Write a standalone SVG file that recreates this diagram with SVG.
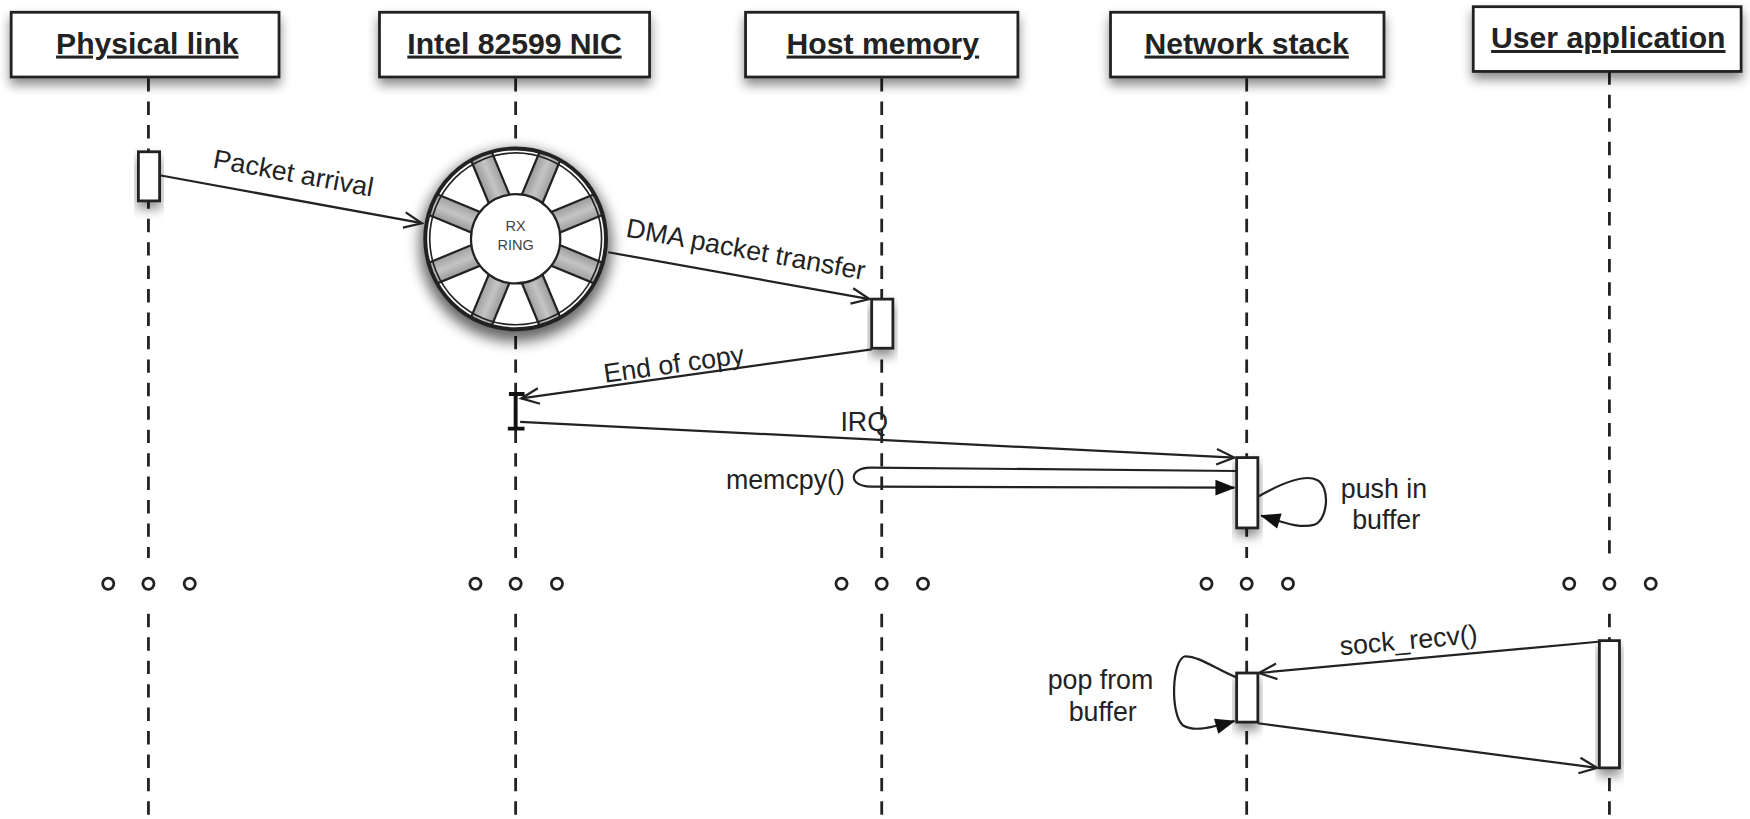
<svg xmlns="http://www.w3.org/2000/svg" width="1750" height="819" viewBox="0 0 1750 819">
<style>
.box{fill:#fff;stroke:#222;stroke-width:2.5}
.title{font-family:"Liberation Sans",Arial,sans-serif;font-weight:bold;font-size:27px;fill:#222;text-anchor:middle;text-decoration:underline}
.life{stroke:#222;stroke-width:2.5;stroke-dasharray:12 9;fill:none}
.bar{fill:#fff;stroke:#222;stroke-width:2.5}
.msg{stroke:#222;stroke-width:2;fill:none}
.lbl{font-family:"Liberation Sans",Arial,sans-serif;font-size:24px;fill:#222}
.dot{fill:#fff;stroke:#222;stroke-width:2.5}
.ring{font-family:"Liberation Sans",Arial,sans-serif;font-size:13px;fill:#444;text-anchor:middle}
</style>
<defs>
<filter id="sh" x="-20%" y="-30%" width="140%" height="180%">
<feDropShadow dx="0" dy="6" stdDeviation="5" flood-color="#000" flood-opacity="0.45"/>
</filter>
<filter id="blur" x="-30%" y="-30%" width="160%" height="160%">
<feGaussianBlur stdDeviation="6"/>
</filter>
<marker id="open" viewBox="0 0 20 20" refX="18" refY="10" markerWidth="20" markerHeight="20" markerUnits="userSpaceOnUse" orient="auto">
<path d="M2,3 L18,10 L2,17" fill="none" stroke="#222" stroke-width="2"/>
</marker>
<marker id="fill" viewBox="0 0 20 20" refX="18" refY="10" markerWidth="20" markerHeight="20" markerUnits="userSpaceOnUse" orient="auto">
<path d="M1,3 L19,10 L1,17 Z" fill="#111"/>
</marker>
<linearGradient id="gray" x1="0" y1="0" x2="1" y2="0">
<stop offset="0" stop-color="#9a9a9a"/>
<stop offset="0.5" stop-color="#c4c4c4"/>
<stop offset="1" stop-color="#a0a0a0"/>
</linearGradient>
<clipPath id="rc"><circle cx="0" cy="0" r="81"/></clipPath>
</defs>

<g transform="scale(1.1161)">
<g id="lifelines">
<path class="life" d="M133,70 V500 M133,550 V740"/>
<path class="life" d="M462,70 V500 M462,550 V740"/>
<path class="life" d="M790,70 V500 M790,550 V740"/>
<path class="life" d="M1117,70 V500 M1117,550 V740"/>
<path class="life" d="M1442,64 V500 M1442,550 V740"/>
</g>

<g id="dots">
<circle class="dot" cx="97" cy="523" r="5"/><circle class="dot" cx="133" cy="523" r="5"/><circle class="dot" cx="170" cy="523" r="5"/>
<circle class="dot" cx="426" cy="523" r="5"/><circle class="dot" cx="462" cy="523" r="5"/><circle class="dot" cx="499" cy="523" r="5"/>
<circle class="dot" cx="754" cy="523" r="5"/><circle class="dot" cx="790" cy="523" r="5"/><circle class="dot" cx="827" cy="523" r="5"/>
<circle class="dot" cx="1081" cy="523" r="5"/><circle class="dot" cx="1117" cy="523" r="5"/><circle class="dot" cx="1154" cy="523" r="5"/>
<circle class="dot" cx="1406" cy="523" r="5"/><circle class="dot" cx="1442" cy="523" r="5"/><circle class="dot" cx="1479" cy="523" r="5"/>
</g>

<g id="node-physical-link">
<rect class="box" x="10" y="11" width="240" height="58" filter="url(#sh)"/>
<text class="title" x="132" y="48">Physical link</text>
<rect class="bar" x="124" y="136" width="19" height="44" filter="url(#sh)"/>
</g>

<g id="node-nic">
<rect class="box" x="340" y="11" width="242" height="58" filter="url(#sh)"/>
<text class="title" x="461" y="48">Intel 82599 NIC</text>
<path d="M456,353 H470 M462,353 V384 M455,384 H470" stroke="#111" stroke-width="3.5" fill="none"/>
</g>

<g id="node-rx-ring">
<circle cx="462" cy="220" r="86" fill="#000" opacity="0.6" filter="url(#blur)"/>
<g transform="translate(462,214)">
<circle r="82" fill="#fff"/>
<g clip-path="url(#rc)" stroke="#222" stroke-width="2" fill="url(#gray)">
<rect x="-10" y="-84" width="20" height="48" transform="rotate(22.5)"/>
<rect x="-10" y="-84" width="20" height="48" transform="rotate(67.5)"/>
<rect x="-10" y="-84" width="20" height="48" transform="rotate(112.5)"/>
<rect x="-10" y="-84" width="20" height="48" transform="rotate(157.5)"/>
<rect x="-10" y="-84" width="20" height="48" transform="rotate(202.5)"/>
<rect x="-10" y="-84" width="20" height="48" transform="rotate(247.5)"/>
<rect x="-10" y="-84" width="20" height="48" transform="rotate(292.5)"/>
<rect x="-10" y="-84" width="20" height="48" transform="rotate(337.5)"/>
</g>
<circle r="40" fill="#fff" stroke="#222" stroke-width="2"/>
<circle r="81" fill="none" stroke="#222" stroke-width="3.5"/>
<circle r="77" fill="none" stroke="#222" stroke-width="1.5"/>
<text class="ring" x="0" y="-7">RX</text>
<text class="ring" x="0" y="10">RING</text>
</g>
</g>

<g id="node-host-memory">
<rect class="box" x="668" y="11" width="244" height="58" filter="url(#sh)"/>
<text class="title" x="791" y="48">Host memory</text>
<rect class="bar" x="781" y="268" width="19" height="44" filter="url(#sh)"/>
</g>

<g id="node-network-stack">
<rect class="box" x="995" y="11" width="245" height="58" filter="url(#sh)"/>
<text class="title" x="1117" y="48">Network stack</text>
<rect class="bar" x="1108" y="410" width="19" height="63" filter="url(#sh)"/>
<rect class="bar" x="1108" y="603" width="19" height="44" filter="url(#sh)"/>
</g>

<g id="node-user-application">
<rect class="box" x="1320" y="6" width="240" height="58" filter="url(#sh)"/>
<text class="title" x="1441" y="43">User application</text>
<rect class="bar" x="1433" y="574" width="18" height="114" filter="url(#sh)"/>
</g>

<g id="connectors">
<path class="msg" d="M143,157 L378,200" marker-end="url(#open)"/>
<path class="msg" d="M545,226 L779,268" marker-end="url(#open)"/>
<path class="msg" d="M781,313 L467,357" marker-end="url(#open)"/>
<path class="msg" d="M466,378 L1106,410" marker-end="url(#open)"/>
<path class="msg" d="M1108,422 L780,419 C760,419 760,436 780,436 L1106,437" marker-end="url(#fill)"/>
<path class="msg" d="M1127,445 C1150,432 1170,425 1180,430 C1192,436 1190,465 1178,470 C1165,474 1150,468 1130,462" marker-end="url(#fill)"/>
<path class="msg" d="M1432,575 L1128,603" marker-end="url(#open)"/>
<path class="msg" d="M1108,607 C1090,600 1075,588 1062,588 C1050,590 1048,640 1060,650 C1070,656 1085,652 1106,646" marker-end="url(#fill)"/>
<path class="msg" d="M1127,648 L1431,688" marker-end="url(#open)"/>
</g>

<g id="labels">
<text class="lbl" transform="translate(190,150) rotate(10.4)">Packet arrival</text>
<text class="lbl" transform="translate(560,212) rotate(10.3)">DMA packet transfer</text>
<text class="lbl" transform="translate(542,343) rotate(-8)">End of copy</text>
<text class="lbl" x="753" y="386">IRQ</text>
<text class="lbl" x="757" y="438" text-anchor="end">memcpy()</text>
<text class="lbl" x="1240" y="446" text-anchor="middle">push in</text>
<text class="lbl" x="1242" y="474" text-anchor="middle">buffer</text>
<text class="lbl" transform="translate(1201,587) rotate(-5)">sock_recv()</text>
<text class="lbl" x="986" y="617" text-anchor="middle">pop from</text>
<text class="lbl" x="988" y="646" text-anchor="middle">buffer</text>
</g>
</g>
</svg>
